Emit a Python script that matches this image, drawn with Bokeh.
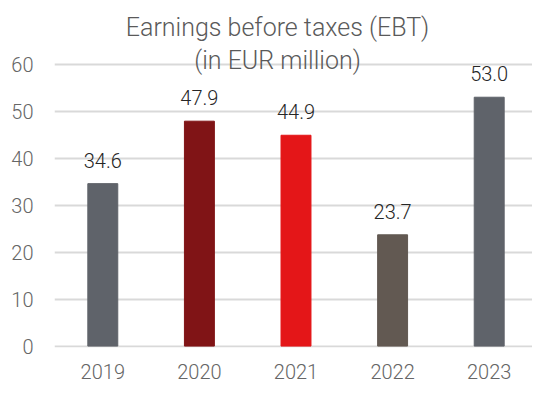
from bokeh.plotting import figure
from bokeh.models import ColumnDataSource, Range1d, FixedTicker, LabelSet, Label
from bokeh.core.properties import value
from bokeh.embed import file_html
from bokeh.resources import INLINE

years = ["2019", "2020", "2021", "2022", "2023"]
ebt = [34.6, 47.9, 44.9, 23.7, 53.0]
colors = ["#5f636a", "#801416", "#e41618", "#625952", "#5f636a"]
y_ticks = [0, 10, 20, 30, 40, 50, 60]
title_lines = ["Earnings before taxes (EBT)", "(in EUR million)"]

FONT = "Roboto Light"

W, H = 532, 384
LEFT, BOTTOM = 54, 37
PX_X = 96.6                 # pixels per category
FRAME_H = H - BOTTOM
y_start = -0.3
y_end = 73.6
PX_Y = FRAME_H / (y_end - y_start)

xs = list(range(len(years)))
src = ColumnDataSource(dict(
    x=xs, top=ebt, color=colors,
    label=[f"{v:.1f}" for v in ebt],
))

p = figure(width=W, height=H, output_backend="svg", toolbar_location=None,
           x_range=Range1d(-0.5, -0.5 + (W - LEFT) / PX_X),
           y_range=Range1d(y_start, y_end),
           min_border_left=LEFT, min_border_right=0, min_border_top=0,
           min_border_bottom=BOTTOM)
p.outline_line_color = None
p.background_fill_color = "white"
p.border_fill_color = "white"

p.vbar(x="x", top="top", bottom=0, width=0.31, color="color", source=src)

labels = LabelSet(x="x", y="top", text="label", source=src, y_offset=16,
                  text_align="center", text_baseline="alphabetic",
                  text_font=value(FONT), text_font_size="20px", text_color="#262626")
p.add_layout(labels)

p.xaxis.ticker = FixedTicker(ticks=xs)
p.xaxis.major_label_overrides = {i: y for i, y in enumerate(years)}
p.yaxis.ticker = FixedTicker(ticks=y_ticks)
for ax in (p.xaxis, p.yaxis):
    ax.axis_line_color = None
    ax.major_tick_line_color = None
    ax.minor_tick_line_color = None
    ax.major_label_text_font = FONT
    ax.major_label_text_font_size = "20px"
    ax.major_label_text_color = "#666666"
p.yaxis.major_label_standoff = 15
p.xaxis.major_label_standoff = 10

p.xgrid.grid_line_color = None
p.ygrid.ticker = FixedTicker(ticks=y_ticks)
p.ygrid.grid_line_color = "#d9d9d9"
p.ygrid.grid_line_width = 2

title_x = -0.5 + (277 - LEFT) / PX_X
for t, sy in zip(title_lines, [27, 60]):
    p.add_layout(Label(x=title_x, y=y_end - sy / PX_Y, text=t,
                       text_align="center", text_baseline="alphabetic",
                       text_font=FONT, text_font_size="25px",
                       text_color="#5a5a5a"))

open("out.html", "w").write(file_html(p, INLINE))
